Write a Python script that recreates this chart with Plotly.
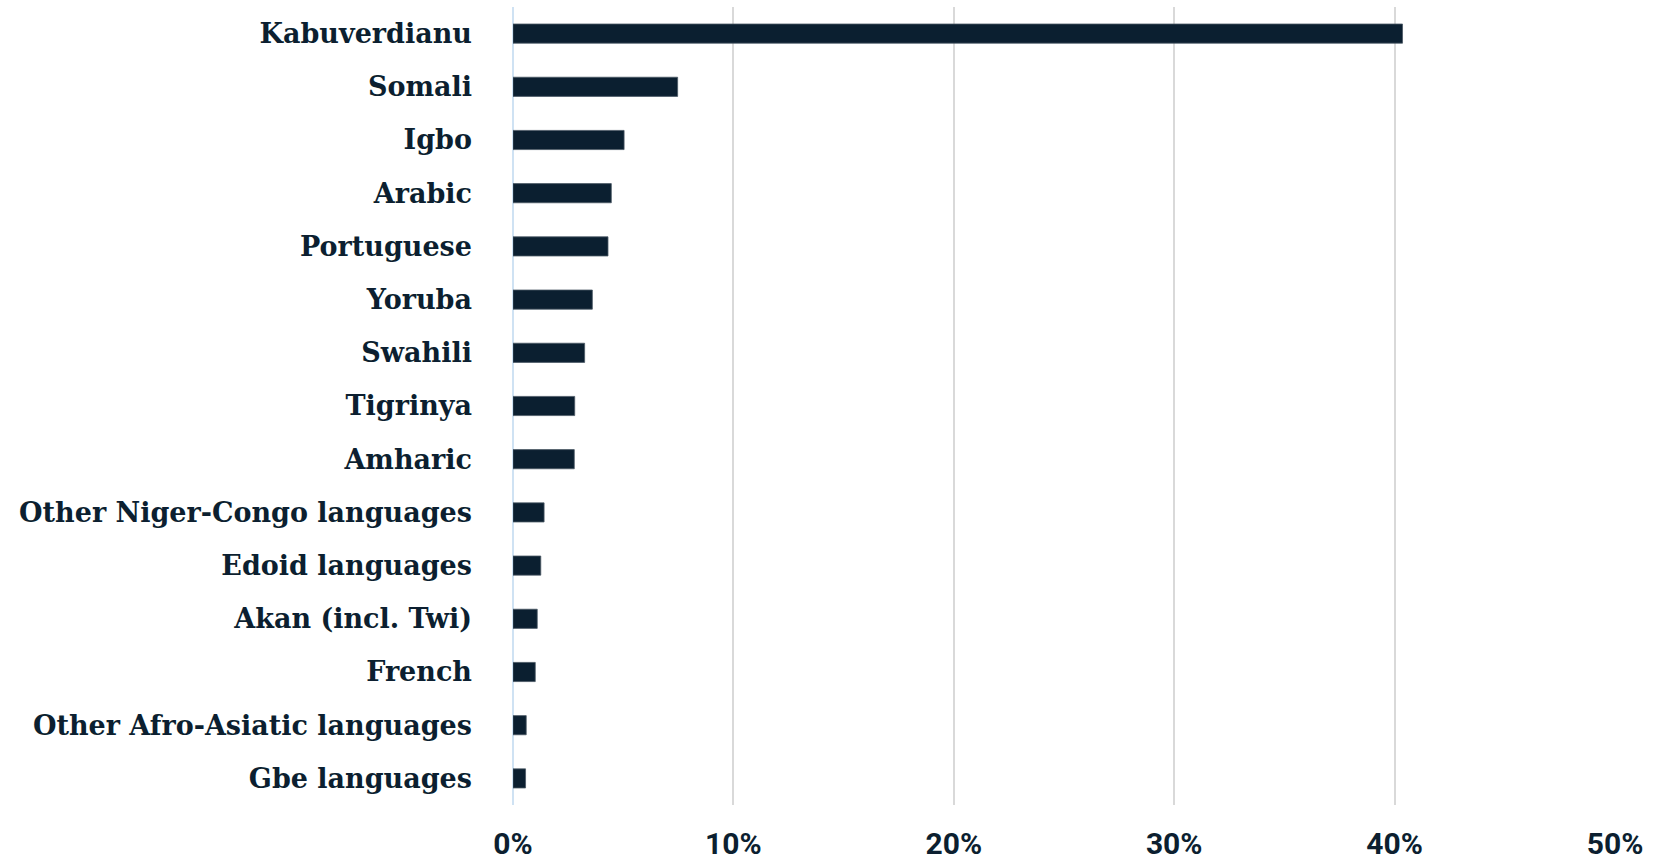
import plotly.graph_objects as go

languages = ["Kabuverdianu", "Somali", "Igbo", "Arabic", "Portuguese", "Yoruba", "Swahili",
             "Tigrinya", "Amharic", "Other Niger-Congo languages", "Edoid languages",
             "Akan (incl. Twi)", "French", "Other Afro-Asiatic languages", "Gbe languages"]
shares = [40.36, 7.47, 5.04, 4.46, 4.31, 3.60, 3.25, 2.80, 2.78, 1.41, 1.26, 1.10, 1.01, 0.60, 0.57]
x_ticks = [0, 10, 20, 30, 40, 50]
x_tick_labels = ["0%", "10%", "20%", "30%", "40%", "50%"]

navy = "#0c1f30"

fig = go.Figure(go.Bar(
    x=shares, y=languages, orientation="h",
    marker=dict(color="#0b1f30", line=dict(color="#4a5864", width=0.8)),
    width=0.36,
))

fig.update_layout(
    width=1658, height=860,
    margin=dict(l=513, r=43, t=7, b=55),
    paper_bgcolor="white", plot_bgcolor="white",
    showlegend=False,
    xaxis=dict(
        range=[0, 50], tickvals=x_ticks, ticktext=x_tick_labels,
        showgrid=True, gridcolor="#d9d9d9", gridwidth=1.5,
        zeroline=True, zerolinecolor="#cfe2f3", zerolinewidth=2,
        showline=False, ticks="", automargin=False,
        tickfont=dict(family="Roboto", size=30, color=navy, weight="bold"),
        ticklabelstandoff=18,
    ),
    yaxis=dict(
        autorange="reversed", showgrid=False, zeroline=False, showline=False, ticks="",
        automargin=False,
        tickfont=dict(family="DejaVu Serif", size=27, color=navy, weight="bold"),
        ticklabelstandoff=40,
    ),
)

fig.write_html("out.html", config={"displayModeBar": False},
               post_script="document.body.style.margin='0';")
